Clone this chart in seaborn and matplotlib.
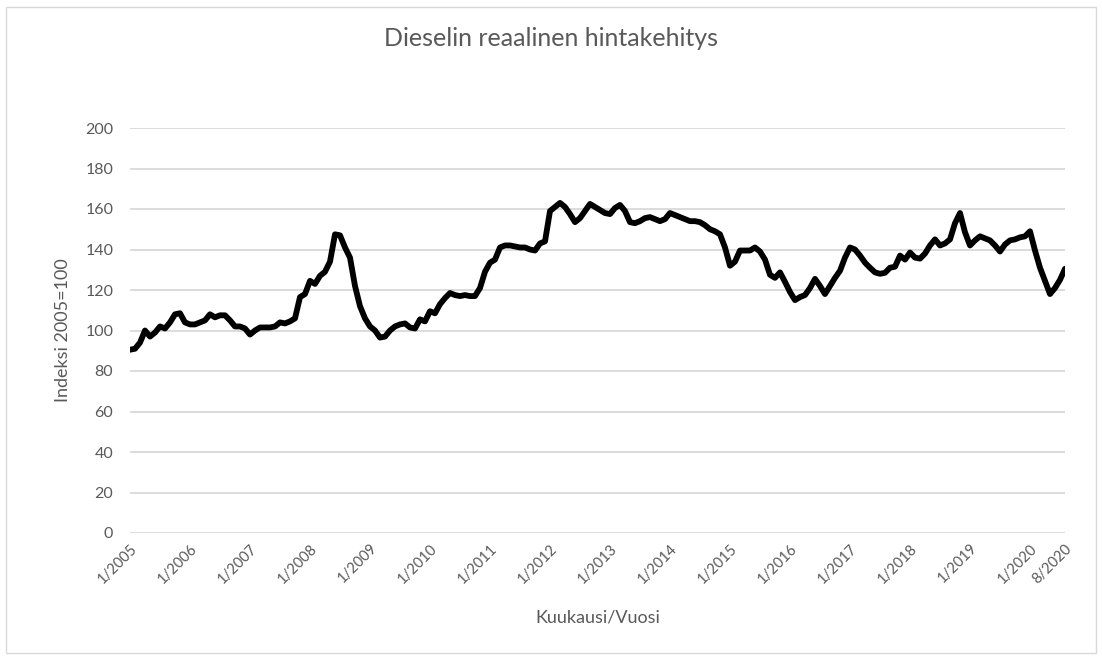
import matplotlib
matplotlib.use("Agg")
import matplotlib.pyplot as plt
import seaborn as sns
import pandas as pd
import numpy as np
from matplotlib.patches import Rectangle

y2005 = [90.5, 91, 94, 100, 97, 99, 102, 101, 104, 108, 108.5, 104]
y2006 = [103, 103, 104, 105, 108, 106.5, 107.5, 107.5, 105, 102, 102, 101]
y2007 = [98, 100, 101.5, 101.5, 101.5, 102, 104, 103.5, 104.5, 106, 116.5, 118]
y2008 = [124.5, 123, 127, 129, 134, 147.5, 147, 141, 136, 122, 112, 106]
y2009 = [102, 100, 96.5, 97, 100, 102, 103, 103.5, 101.5, 101, 105.5, 104.5]
y2010 = [109.5, 108.5, 113, 116, 118.5, 117.5, 117, 117.5, 117, 117, 121, 129]
y2011 = [133.5, 135, 141, 142, 142, 141.5, 141, 141, 140, 139.5, 143, 144]
y2012 = [159, 161, 163, 161, 157.5, 153.5, 155.5, 159, 162.5, 161, 159.5, 158]
y2013 = [157.5, 160.5, 162, 159, 153.5, 153, 154, 155.5, 156, 155, 154, 155]
y2014 = [158, 157, 156, 155, 154, 154, 153.5, 152, 150, 149, 147.5, 141]
y2015 = [132, 134, 139.5, 139.5, 139.5, 141, 139, 135, 127.5, 126, 128.7, 124]
y2016 = [119, 115, 116.5, 117.5, 121, 125.5, 122, 118, 122, 126, 129.5, 136]
y2017 = [141, 140, 137, 133.5, 131, 128.7, 128, 128.5, 131, 131.5, 137, 135]
y2018 = [138.5, 136, 135.5, 138, 142, 145, 142, 143, 145, 153, 158, 148.5]
y2019 = [142, 144.5, 146.5, 145.5, 144.5, 142, 139, 142.5, 144.5, 145, 146, 146.5]
y2020 = [149, 139.5, 131, 124.5, 118, 121, 125, 130.5]

years = list(range(2005, 2021))
series = [y2005, y2006, y2007, y2008, y2009, y2010, y2011, y2012, y2013,
          y2014, y2015, y2016, y2017, y2018, y2019, y2020]
tick_labels = [f"1/{y}" for y in years] + ["8/2020"]
title = "Dieselin reaalinen hintakehitys"
ylabel = "Indeksi 2005=100"
xlabel = "Kuukausi/Vuosi"

values = [v for ys in series for v in ys]
df = pd.DataFrame({"month": np.arange(len(values)), "index": values})

sns.set_theme(style="white")
plt.rcParams["font.family"] = ["Lato", "DejaVu Sans"]

grey = "#595959"
fig = plt.figure(figsize=(11.02, 6.57), dpi=100)
ax = fig.add_axes([130 / 1102, 1 - 533 / 657, (1065 - 130) / 1102, (533 - 128) / 657])

ax.set_yticks(np.arange(0, 201, 20))
ax.set_ylim(0, 200)
ax.grid(axis="y", color="#d9d9d9", linewidth=1.3)
ax.set_axisbelow(True)

sns.lineplot(data=df, x="month", y="index", color="black", linewidth=4.2,
             ax=ax, solid_joinstyle="round", solid_capstyle="round")

n = len(values)
tick_pos = list(range(0, n, 12)) + [n - 1]
ax.set_xticks(tick_pos)
ax.set_xticklabels(tick_labels, rotation=45, ha="right", va="top",
                   rotation_mode="anchor", fontsize=10.5, color=grey)
ax.set_xlim(0, n - 1)
ax.tick_params(axis="y", labelsize=11.5, colors=grey, length=0, pad=12)
ax.tick_params(axis="x", length=0, pad=6)
for s in ax.spines.values():
    s.set_visible(False)

ax.set_xlabel(xlabel, fontsize=13, color=grey, labelpad=17)
ax.set_ylabel(ylabel, fontsize=13, color=grey, labelpad=10)
fig.text(0.5, 1 - 38 / 657, title, ha="center", va="center", fontsize=18, color=grey)

fig.patches.append(Rectangle((6 / 1102, 4 / 657), 1090 / 1102, 646 / 657,
                             transform=fig.transFigure, fill=False,
                             edgecolor="#d9d9d9", linewidth=1))

fig.savefig("out.png", dpi=100)
